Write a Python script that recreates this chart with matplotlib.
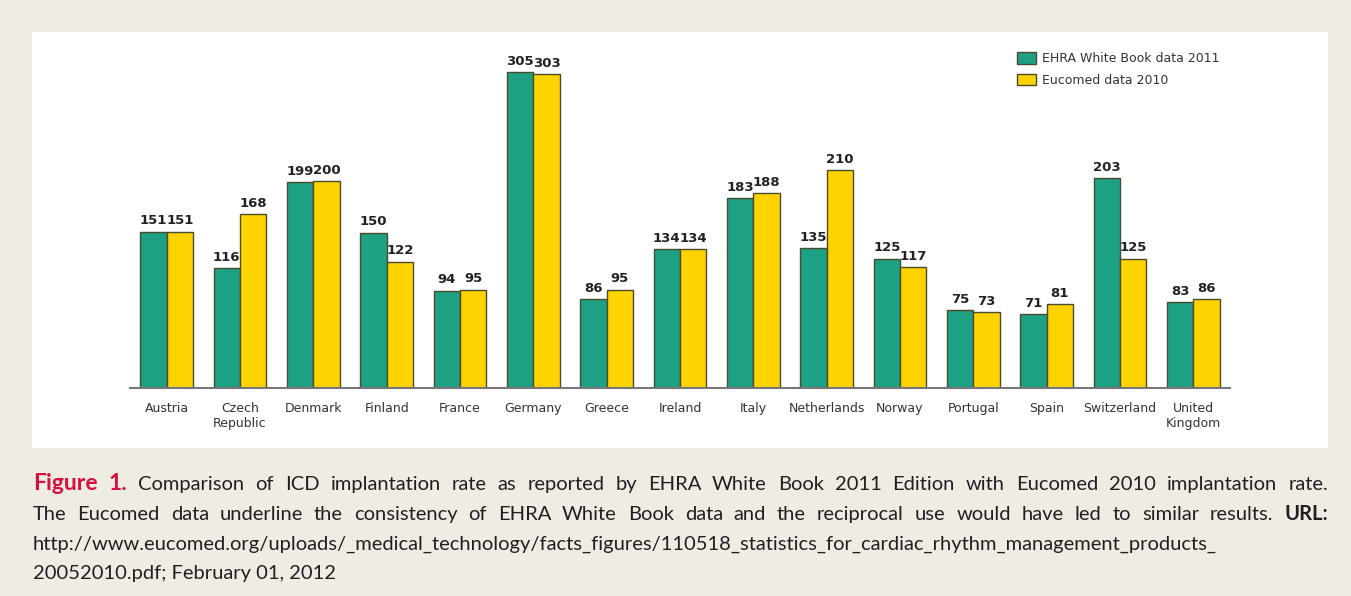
import matplotlib
matplotlib.use('Agg')
import matplotlib.pyplot as plt
from matplotlib.patches import Rectangle

# data
countries = ['Austria', 'Czech\nRepublic', 'Denmark', 'Finland', 'France', 'Germany', 'Greece',
             'Ireland', 'Italy', 'Netherlands', 'Norway', 'Portugal', 'Spain', 'Switzerland',
             'United\nKingdom']
ehra_2011 = [151, 116, 199, 150, 94, 305, 86, 134, 183, 135, 125, 75, 71, 203, 83]
eucomed_2010 = [151, 168, 200, 122, 95, 303, 95, 134, 188, 210, 117, 73, 81, 125, 86]
series_names = ['EHRA White Book data 2011', 'Eucomed data 2010']

W, H = 1351, 596
fig = plt.figure(figsize=(W / 100, H / 100), dpi=100, facecolor='#efede3')

# white panel behind the chart
fig.patches.append(Rectangle((32 / W, 1 - 448 / H), (1328 - 32) / W, (448 - 32) / H,
                             transform=fig.transFigure, facecolor='white', edgecolor='none', zorder=-5))

ax = fig.add_axes([130 / W, 1 - 388 / H, (1230 - 130) / W, (388 - 56.5) / H])
ax.set_facecolor('none')
ax.set_zorder(2)

green = '#1ea084'
yellow = '#ffd300'
edge = '#4a4a2c'
w = 0.36
x = list(range(len(countries)))

b1 = ax.bar([i - w / 2 for i in x], ehra_2011, width=w, color=green, edgecolor=edge, linewidth=1.0,
            label=series_names[0])
b2 = ax.bar([i + w / 2 for i in x], eucomed_2010, width=w, color=yellow, edgecolor=edge, linewidth=1.0,
            label=series_names[1])
for b in (b1, b2):
    ax.bar_label(b, padding=3, fontsize=9.5, fontweight='bold', color='#222222')

ax.set_xlim(-0.5, 14.5)
ax.set_ylim(0, 320)
ax.set_xticks(x)
ax.set_xticklabels(countries, fontsize=9, color='#333333')
ax.tick_params(axis='x', length=0, pad=10)
ax.set_yticks([])
for s in ['top', 'right', 'left']:
    ax.spines[s].set_visible(False)
ax.spines['bottom'].set_color('#777777')
ax.spines['bottom'].set_linewidth(1.5)

ax.legend(loc='upper left', bbox_to_anchor=(1011 / W, 1 - 46 / H), bbox_transform=fig.transFigure,
          frameon=False, borderpad=0, fontsize=9, handlelength=1.5, handleheight=1.0,
          labelspacing=0.7, handletextpad=0.5, labelcolor='#333333')

# caption, first two lines justified like the journal layout
cap_font = dict(family=['Lato', 'DejaVu Sans'], fontsize=14.5, color='#231f20')
red_font = dict(cap_font, color='#d6103f', fontweight='bold', fontsize=16.5)
bold_font = dict(cap_font, fontweight='bold')

renderer = fig.canvas.get_renderer()


def put_line(parts, ypix, x0pix, x1pix):
    texts = []
    for word, props in parts:
        texts.append(fig.text(x0pix / W, 1 - ypix / H, word, va='baseline', ha='left', **props))
    widths = [t.get_window_extent(renderer).width for t in texts]
    gap = (x1pix - x0pix - sum(widths)) / (len(texts) - 1)
    xpos = x0pix
    for t, wd in zip(texts, widths):
        t.set_x(xpos / W)
        xpos += wd + gap


line1 = [('Figure', red_font), ('1.', red_font)] + \
    [(wd, cap_font) for wd in 'Comparison of ICD implantation rate as reported by EHRA White Book 2011 '
                              'Edition with Eucomed 2010 implantation rate.'.split()]
line2 = [(wd, cap_font) for wd in 'The Eucomed data underline the consistency of EHRA White Book data and '
                                  'the reciprocal use would have led to similar results.'.split()] + \
    [('URL:', bold_font)]
put_line(line1, 490, 33, 1328)
put_line(line2, 520, 33, 1328)
fig.text(33 / W, 1 - 550 / H,
         'http://www.eucomed.org/uploads/_medical_technology/facts_figures/'
         '110518_statistics_for_cardiac_rhythm_management_products_',
         va='baseline', ha='left', **cap_font)
fig.text(33 / W, 1 - 579 / H, '20052010.pdf; February 01, 2012', va='baseline', ha='left', **cap_font)

fig.savefig('out.png', dpi=100, facecolor=fig.get_facecolor())
